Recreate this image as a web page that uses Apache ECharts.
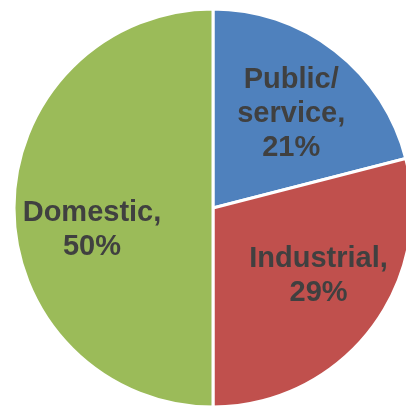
<!DOCTYPE html>
<html><head><meta charset="utf-8">
<script src="https://cdn.jsdelivr.net/npm/echarts@6/dist/echarts.min.js"></script>
<style>html,body{margin:0;padding:0;background:#fff}#c{width:406px;height:407px}</style>
</head><body><div id="c"></div>
<script>
const categories = ['Public/\nservice', 'Industrial', 'Domestic'];
const values = [21, 29, 50];
const colors = ['#4F81BD', '#C0504D', '#9BBB59'];
const labelOffsets = [[1, 6], [6, -9], [5, 22]];

const data = categories.map((n, i) => ({ name: n, value: values[i], itemStyle: { color: colors[i] } }));
const chart = echarts.init(document.getElementById('c'), null, { renderer: 'canvas' });
chart.setOption({
  animation: false,
  series: [
    {
      type: 'pie', center: [213, 208], radius: [0, 199],
      startAngle: 90, clockwise: true,
      data: data,
      itemStyle: { borderColor: '#fff', borderWidth: 3 },
      label: { show: false }, labelLine: { show: false }, silent: true
    },
    {
      type: 'pie', center: [213, 208], radius: [0, 246],
      startAngle: 90, clockwise: true, silent: true,
      data: categories.map((n, i) => ({ name: n, value: values[i], itemStyle: { color: 'rgba(0,0,0,0)' }, label: { offset: labelOffsets[i] } })),
      itemStyle: { borderWidth: 0 },
      labelLine: { show: false },
      label: {
        show: true, position: 'inside',
        formatter: p => p.name + ',\n' + p.value + '%',
        fontFamily: 'Liberation Sans, Arial, sans-serif',
        fontWeight: 'bold', fontSize: 29, lineHeight: 34,
        color: '#404040', align: 'center'
      }
    }
  ]
});
</script></body></html>
